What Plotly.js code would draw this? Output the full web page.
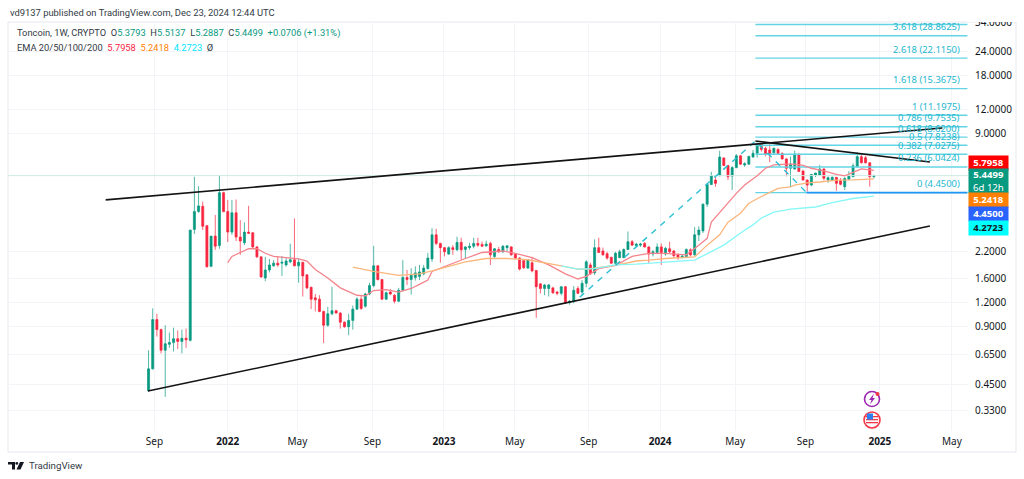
<!DOCTYPE html>
<html>
<head>
<meta charset="utf-8">
<script src="https://cdn.plot.ly/plotly-3.0.1.min.js"></script>
<style>html,body{margin:0;padding:0;background:#fff;overflow:hidden}#chart{width:1024px;height:479px}</style>
</head>
<body>
<div id="chart"></div>
<script>
const firstWeek = '2021-08-23';
const opens = [.42,.545,.98,.87,.68,.73,.745,.78,.755,.785,
.765,2.87,3.55,3.78,3.0,1.85,2.65,2.37,4.45,3.55,
2.78,3.5,2.62,2.45,2.78,2.76,2.33,2.07,1.61,1.77,
1.86,1.92,1.92,1.88,1.95,2.0,1.86,1.94,1.67,1.44,
1.27,1.25,1.08,.916,1.05,1.09,1.06,.95,.90,.97,
1.11,1.25,1.15,1.33,1.47,1.86,1.58,1.25,1.36,1.31,
1.22,1.39,1.62,1.58,1.62,1.64,1.69,1.80,2.02,2.69,
2.43,2.31,2.14,2.31,2.25,2.46,2.26,2.31,2.35,2.43,
2.4,2.36,2.43,2.08,2.26,2.2,2.31,2.33,2.14,2.04,
1.98,1.81,1.93,1.76,1.5,1.42,1.42,1.43,1.36,1.34,
1.45,1.2,1.22,1.42,1.36,1.51,1.88,1.71,2.31,2.22,
2.15,2.06,1.92,2.05,2.05,2.26,2.48,2.36,2.38,2.43,
2.33,2.14,2.18,2.33,2.14,2.28,2.22,2.12,2.05,2.07,
2.25,2.12,2.69,2.82,3.88,4.9,5.17,5.45,6.72,6.15,
5.42,6.0,6.9,6.19,6.25,6.8,7.12,7.9,7.55,7.4,
7.15,7.45,7.1,6.65,5.95,5.9,6.97,5.75,5.17,4.87,
5.49,5.49,5.9,5.17,5.17,5.34,5.13,4.78,5.22,5.38,
6.07,6.83,6.75,6.35,5.3793];
const highs = [.68,1.12,1.05,.88,.916,.84,.89,.86,.87,.88,
2.85,5.38,4.8,4.0,3.03,2.65,3.41,5.49,4.5,4.08,
4.08,4.1,3.21,3.12,3.8,2.78,2.35,2.08,2.07,2.02,
1.99,2.09,2.09,2.05,2.42,3.27,2.03,1.95,1.68,1.45,
1.33,1.31,1.09,1.14,1.45,1.1,1.07,.96,1.05,1.16,
1.28,1.31,1.35,1.52,2.36,1.88,1.59,1.37,1.41,1.33,
1.43,1.99,1.77,1.81,1.85,1.88,1.88,2.17,2.91,2.89,
2.45,2.33,2.35,2.38,2.63,2.6,2.35,2.45,2.6,2.6,
2.48,2.51,2.48,2.3,2.33,2.38,2.38,2.35,2.16,2.06,
2.0,2.02,2.07,1.77,1.51,1.5,1.5,1.45,1.38,1.46,
1.46,1.24,1.46,1.46,1.57,1.99,1.93,2.55,2.6,2.31,
2.2,2.07,2.2,2.25,2.29,2.8,2.53,2.45,2.45,2.47,
2.35,2.25,2.43,2.43,2.33,2.48,2.25,2.16,2.12,2.29,
2.29,2.95,2.98,3.9,4.98,5.7,5.38,7.33,6.8,6.19,
6.1,7.05,6.97,6.4,6.92,7.4,8.1,8.0,7.7,8.0,
7.6,7.55,7.2,6.7,6.85,7.35,7.15,5.85,5.2,5.55,
5.65,6.2,5.95,5.4,5.4,5.36,5.3,5.35,5.75,6.3,
7.2,7.05,6.9,6.4,5.5137];
const lows = [.415,.54,.80,.655,.39,.70,.67,.69,.655,.70,
.755,2.72,3.5,2.85,1.82,1.83,2.25,2.28,3.52,2.47,
2.69,2.5,2.12,2.38,2.72,2.3,2.04,1.61,1.55,1.72,
1.84,1.84,1.65,1.84,1.92,1.85,1.52,1.29,1.41,1.11,
1.08,1.07,.74,.90,1.03,1.05,.88,.89,.813,.87,
1.1,1.10,1.13,1.31,1.44,1.56,1.24,1.24,1.31,1.19,
1.21,1.38,1.48,1.32,1.56,1.57,1.66,1.78,1.95,2.38,
1.93,2.08,2.12,2.12,2.22,2.0,2.04,2.25,2.29,2.33,
2.33,2.33,1.88,2.04,2.17,2.17,2.2,2.1,2.02,1.76,
1.79,1.79,1.72,1.0,1.34,1.31,1.29,1.33,1.31,1.31,
1.18,1.17,1.19,1.33,1.31,1.44,1.67,1.67,2.17,2.1,
2.0,1.9,1.9,2.04,2.04,2.25,2.36,2.33,2.33,2.31,
1.92,2.08,2.14,1.88,2.1,2.16,2.04,2.0,2.04,2.04,
2.08,2.1,2.5,2.75,3.75,4.87,4.77,5.4,6.1,5.17,
4.59,5.95,6.19,6.05,6.19,6.75,6.75,7.25,6.85,6.4,
7.05,7.0,6.6,5.4,4.75,5.85,5.7,5.15,4.5,4.8,
5.35,5.45,5.15,5.0,5.1,4.55,4.85,4.59,5.2,5.35,
6.0,6.3,6.3,4.78,5.2887];
const closes = [.545,.98,.87,.68,.735,.745,.78,.755,.785,.77,
2.85,3.55,3.8,2.98,1.84,2.65,2.35,4.45,3.55,2.78,
3.5,2.62,2.5,2.78,2.74,2.33,2.07,1.63,1.77,1.88,
1.92,1.88,1.94,1.97,2.0,1.86,1.94,1.65,1.43,1.25,
1.24,1.08,.916,1.05,1.09,1.06,.95,.90,.97,1.11,
1.25,1.12,1.33,1.47,1.86,1.58,1.25,1.35,1.33,1.22,
1.39,1.62,1.58,1.66,1.71,1.73,1.81,2.04,2.69,2.43,
2.31,2.2,2.31,2.26,2.46,2.25,2.33,2.35,2.43,2.38,
2.35,2.41,2.12,2.28,2.2,2.35,2.36,2.12,2.04,1.79,
1.82,2.0,1.75,1.45,1.42,1.48,1.48,1.35,1.34,1.45,
1.2,1.22,1.39,1.34,1.51,1.95,1.69,2.31,2.18,2.12,
2.04,1.92,2.16,2.2,2.26,2.48,2.38,2.41,2.41,2.33,
2.14,2.2,2.33,2.18,2.29,2.2,2.1,2.05,2.09,2.26,
2.12,2.69,2.85,3.88,4.9,5.45,4.97,6.8,6.15,5.38,
6.0,6.9,6.25,6.28,6.85,7.12,7.9,7.45,7.05,6.97,
7.55,7.1,6.65,5.95,6.25,7.05,5.72,5.17,4.87,5.53,
5.62,5.9,5.28,5.32,5.34,4.97,4.91,5.27,5.45,6.13,
6.83,6.35,6.35,5.38,5.4499];

const ema20Weeks = [20,21,23,25,27,29,31,34,37,39,41,44,47,51,53,55,58,61,64,66,68,69,72,77,81,83,86,89,93,97,101,104,106,109,113,117,121,125,130,133,135,136,138,140,142,144,147,149,151,154,156,158,160,163,166,168,170,172,175];
const ema20 = [1.93,2.08,2.18,2.28,2.28,2.16,2.08,2.05,2.02,1.97,1.78,1.61,1.43,1.31,1.30,1.385,1.40,1.36,1.42,1.49,1.57,1.74,1.85,2.03,2.18,2.2,2.22,2.16,2.05,1.88,1.69,1.59,1.64,1.80,1.87,2.08,2.16,2.16,2.12,2.38,2.58,3.13,3.5,3.95,4.41,4.87,5.44,5.95,6.19,6.25,6.25,6.15,5.95,5.77,5.53,5.44,5.67,5.9,5.7958];
const ema50Weeks = [50,55,61,66,69,73,77,82,87,92,96,100,104,106,113,118,121,125,132,135,138,140,143,145,148,150,152,155,156,159,162,166,170,175];
const ema50 = [1.83,1.74,1.66,1.69,1.75,1.85,1.95,2.03,2.03,2.0,1.92,1.86,1.79,1.79,1.87,1.97,1.99,2.03,2.07,2.38,2.69,3.13,3.48,3.92,4.25,4.46,4.68,4.77,4.87,5.0,5.05,5.17,5.18,5.2418];
const ema100Weeks = [100,104,108,113,118,125,132,139,143,146,148,151,155,161,165,170,175];
const ema100 = [1.86,1.79,1.80,1.88,1.90,1.95,1.99,2.38,2.75,3.03,3.29,3.53,3.66,3.75,3.95,4.15,4.2723];

const fibRatios = ['3.618','2.618','1.618','1','0.786','0.618','0.5','0.382','0.236','0'];
const fibPrices = [28.8625,22.1150,15.3675,11.1975,9.7535,8.6200,7.8238,7.0275,6.0424,4.4500];
const fibExtra = 33.03;
const fibSpan = ['2024-06-07','2025-05-29'];
const fibLabelDate = '2025-05-19';

const wedgeTopDates = ['2021-06-12','2025-04-17'], wedgeTop = [4.08,9.61];
const wedgeBottomDates = ['2021-08-22','2025-03-27'], wedgeBottom = [.418,2.99];
const fallingDates = ['2024-06-07','2025-03-27'], falling = [8.23,6.41];
const legDates = ['2023-08-17','2024-06-07','2024-09-01'], leg = [1.28,8.23,4.45];
const baseDates = ['2024-09-01','2025-05-29'], baseLine = [4.45,4.45];
const lastCloseDates = ['2020-12-30','2025-05-30'], lastClose = [5.4499,5.4499];

const priceTicks = [34,24,18,12,9,2.2,1.6,1.2,.9,.65,.45,.33];
const priceLabels = ['34.0000','24.0000','18.0000','12.0000','9.0000','2.2000','1.6000','1.2000','0.9000','0.6500','0.4500','0.3300'];
const timeTicks = ['2021-09-02','2022-01-03','2022-04-30','2022-09-03','2023-01-01','2023-04-30','2023-09-01','2023-12-30','2024-05-04','2024-08-30','2025-01-02','2025-05-03'];
const timeLabels = ['Sep','<b>2022</b>','May','Sep','<b>2023</b>','May','Sep','<b>2024</b>','May','Sep','<b>2025</b>','May'];

const FONT = '"Noto Sans","Open Sans",sans-serif';
const HEAD = 'Roboto,"Noto Sans",sans-serif';
const L=8,T=22,W=960,H=409;
const X=p=>(p-L)/W, Y=p=>(T+H-p)/H;
const dateAt = i => { const d=new Date(Date.UTC(2021,7,23)+i*7*864e5); return d.toISOString().slice(0,10); };
const weeks = opens.map((_,i)=>dateAt(i));
const wk = arr => arr.map(n=>dateAt(n-1));

function line(x,y,color,width,dash){return {type:'scatter',mode:'lines',x,y,line:{color,width,dash:dash||'solid'},hoverinfo:'skip',showlegend:false};}

const data = [];
data.push(line(lastCloseDates,lastClose,'#cfeae3',1));
fibPrices.concat([fibExtra]).forEach(v=>data.push(line(fibSpan,[v,v],'#62d4e3',1.4)));
data.push(line(baseDates,baseLine,'#2196f3',1.6));
data.push({type:'candlestick',x:weeks,open:opens,high:highs,low:lows,close:closes,
  increasing:{line:{color:'#089981',width:.7},fillcolor:'#089981'},
  decreasing:{line:{color:'#f7253f',width:.7},fillcolor:'#f7253f'},
  whiskerwidth:0,hoverinfo:'skip',showlegend:false});
data.push(line(wk(ema20Weeks),ema20,'#f4848c',1.3));
data.push(line(wk(ema50Weeks),ema50,'#fbb67c',1.3));
data.push(line(wk(ema100Weeks),ema100,'#86f7f7',1.3));
data.push(line(legDates,leg,'#2bbfd4',1.4,'6px,6px'));
data.push(line(wedgeTopDates,wedgeTop,'#131313',1.6));
data.push(line(wedgeBottomDates,wedgeBottom,'#131313',1.6));
data.push(line(fallingDates,falling,'#131313',1.6));

function rectPx(x0,y0,x1,y1,fill,lc,lw){return {type:'rect',xref:'paper',yref:'paper',x0:X(x0),x1:X(x1),y0:Y(y0),y1:Y(y1),fillcolor:fill,line:{color:lc||fill,width:lw===undefined?0:lw},layer:'above'};}
function circlePx(cx,cy,r,fill,lc,lw){return {type:'circle',xref:'paper',yref:'paper',x0:X(cx-r),x1:X(cx+r),y0:Y(cy-r),y1:Y(cy+r),fillcolor:fill,line:{color:lc||fill,width:lw||0},layer:'above'};}
function pathPx(pts,fill,lc,lw){return {type:'path',xref:'paper',yref:'paper',path:'M'+pts.map(p=>X(p[0])+','+Y(p[1])).join('L')+'Z',fillcolor:fill,line:{color:lc||fill,width:lw||0},layer:'above'};}

const shapes = [
  rectPx(968,0,1020,T,'#ffffff'),
  {type:'rect',xref:'paper',yref:'paper',x0:X(8),x1:X(1016),y0:Y(452),y1:Y(22),fillcolor:'rgba(0,0,0,0)',line:{color:'#e6e8ee',width:1},layer:'below'},
  circlePx(872,399,7.5,'#ffffff','#9c27b0',1.6),
  pathPx([[874,393.5],[869,400],[871.5,400],[870,404.5],[875,398],[872.5,398]],'#9c27b0'),
  circlePx(877.5,394,2,'#f23645'),
  circlePx(872,420,8,'#ffffff','#f23645',1.6),
  rectPx(866,416,878,417.3,'#f23645'),
  rectPx(866,419,878,420.3,'#f23645'),
  rectPx(866,422,878,423.3,'#f23645'),
  rectPx(867,413.5,873,419.5,'#2d7ff0'),
  pathPx([[8,462],[15,462],[15,469.5],[12,469.5],[12,464.6],[8,464.6]],'#131722'),
  circlePx(16.8,463.4,1.4,'#131722'),
  pathPx([[20,462],[24,462],[20.5,469.5],[16.5,469.5]],'#131722')
];

function txt(x,y,text,size,color,anchor,family){return {xref:'paper',yref:'paper',x:X(x),y:Y(y),xanchor:anchor||'left',yanchor:'middle',text,showarrow:false,font:{family:family||HEAD,size,color}};}
function badge(y,h,text,bg,color){return {xref:'paper',yref:'paper',x:X(968),y:Y(y),xanchor:'left',yanchor:'middle',width:39,height:h,text,bgcolor:bg,showarrow:false,align:'center',borderpad:0,font:{family:FONT,size:9.6,color}};}
const G='#089981';
const fibNotes = fibPrices.map((v,i)=>({xref:'x',yref:'y',x:fibLabelDate,y:Math.log10(v),xanchor:'right',yanchor:'bottom',yshift:1.5,showarrow:false,borderpad:0,
  text:fibRatios[i]+' ('+v.toFixed(4)+')',font:{family:FONT,size:9.4,color:'#22b8d0'}}));
const annotations = fibNotes.concat([
  txt(8,12,'vd9137 published on TradingView.com, Dec 23, 2024 12:44 UTC',9.4,'#333a45'),
  txt(15,33,'Toncoin, 1W, CRYPTO  O<span style="color:'+G+'">5.3793</span>  H<span style="color:'+G+'">5.5137</span>  L<span style="color:'+G+'">5.2887</span>  C<span style="color:'+G+'">5.4499</span>  <span style="color:'+G+'">+0.0706 (+1.31%)</span>',9.3,'#333a45'),
  txt(15,47,'EMA 20/50/100/200  <span style="color:#f7253f">5.7958</span>  <span style="color:#ff7f00">5.2418</span>  <span style="color:#00e5ff">4.2723</span>  Ø',9.3,'#333a45'),
  badge(162.7,13.5,'<b>5.7958</b>','#ff0000','#ffffff'),
  badge(181.3,24,'<b>5.4499</b><br>6d 12h',G,'#ffffff'),
  badge(199.7,13.5,'<b>5.2418</b>','#ff7f00','#ffffff'),
  badge(213.5,13.5,'<b>4.4500</b>','#2962ff','#ffffff'),
  badge(227.5,13.5,'<b>4.2723</b>','#00ffff','#131722'),
  txt(27,466,'TradingView',9.7,'#333a45')
]);

const layout = {
  width:1024,height:479,paper_bgcolor:'#ffffff',plot_bgcolor:'#ffffff',
  margin:{l:L,r:1024-L-W,t:T,b:479-T-H,pad:0},showlegend:false,hovermode:false,
  font:{family:FONT,color:'#131722'},
  xaxis:{type:'date',range:['2020-12-30','2025-05-30'],tickmode:'array',tickvals:timeTicks,ticktext:timeLabels,
    tickangle:0,showgrid:true,gridcolor:'#f3f4f7',gridwidth:1,zeroline:false,showline:false,
    ticks:'outside',ticklen:1,tickcolor:'rgba(0,0,0,0)',tickfont:{family:FONT,size:10,color:'#131722'},rangeslider:{visible:false},fixedrange:true},
  yaxis:{type:'log',range:[-0.5854,1.5315],side:'right',tickmode:'array',tickvals:priceTicks,ticktext:priceLabels,
    showgrid:true,gridcolor:'#f3f4f7',gridwidth:1,zeroline:false,showline:false,
    ticks:'outside',ticklen:4,tickcolor:'rgba(0,0,0,0)',tickfont:{family:FONT,size:10,color:'#131722'},fixedrange:true},
  boxgap:.3,shapes,annotations
};
Plotly.newPlot('chart',data,layout,{staticPlot:true,displayModeBar:false});
</script>
</body>
</html>
